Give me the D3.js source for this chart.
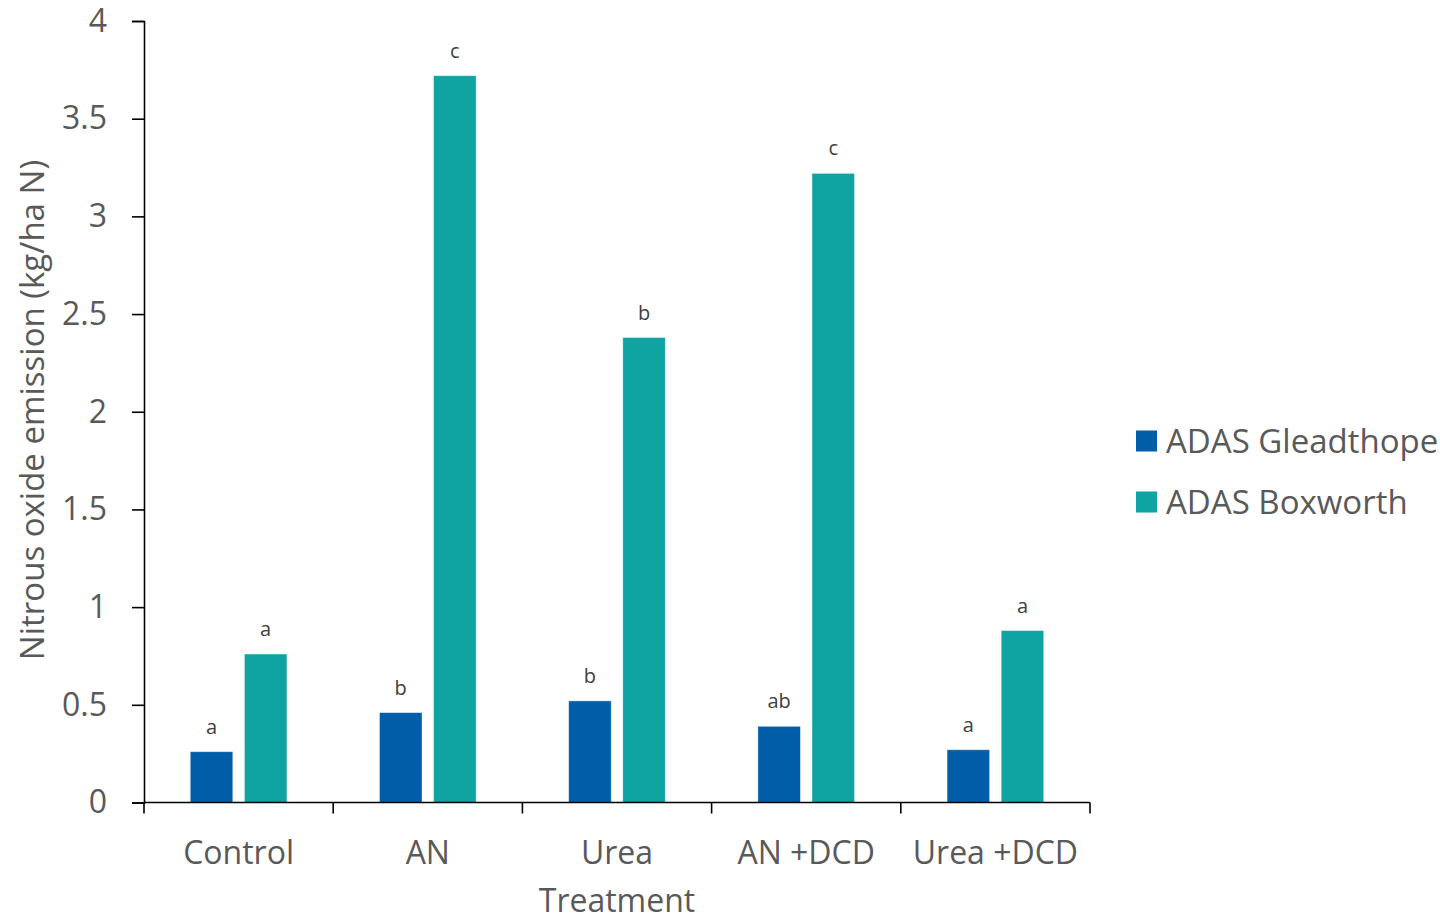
<!DOCTYPE html>
<html>
<head>
<meta charset="utf-8">
<script src="https://cdn.jsdelivr.net/npm/d3@7"></script>
<style>
  html, body { margin: 0; padding: 0; background: #fff; }
  svg { display: block; font-family: "Open Sans", sans-serif; }
</style>
</head>
<body>
<svg id="chart" width="1440" height="918"></svg>
<script>
// Treatments on the x axis
const treatments = ["Control", "AN", "Urea", "AN +DCD", "Urea +DCD"];
// Trial sites (series)
const sites = ["ADAS Gleadthope", "ADAS Boxworth"];
// Cumulative nitrous oxide emission, kg/ha N
const gleadthorpe = [0.26, 0.46, 0.52, 0.39, 0.27];
const boxworth = [0.76, 3.72, 2.38, 3.22, 0.88];
// Significance letters above each bar
const gleadthorpeLetters = ["a", "b", "b", "ab", "a"];
const boxworthLetters = ["a", "c", "b", "c", "a"];
// Y axis ticks
const yTicks = [0, 0.5, 1, 1.5, 2, 2.5, 3, 3.5, 4];
const siteColors = ["#005DA8", "#0FA4A2"];

const seriesValues = [gleadthorpe, boxworth];
const seriesLetters = [gleadthorpeLetters, boxworthLetters];

const svg = d3.select("#chart");
const textColor = "#595959";

const plot = { left: 144, right: 1090, top: 21, bottom: 802.5 };

const x0 = d3.scaleBand().domain(treatments).range([plot.left, plot.right]).padding(0);
const x1 = d3.scaleBand().domain(sites).range([0, x0.bandwidth()])
  .paddingInner(0.214).paddingOuter(0.855);
const y = d3.scaleLinear().domain([0, 4]).range([plot.bottom, plot.top]);

// Bars and letters
const groups = svg.append("g").selectAll("g")
  .data(treatments)
  .join("g")
  .attr("transform", d => `translate(${x0(d)},0)`);

groups.each(function(t, i) {
  const g = d3.select(this);
  sites.forEach((s, j) => {
    const v = seriesValues[j][i];
    g.append("rect")
      .attr("x", x1(s))
      .attr("y", y(v))
      .attr("width", x1.bandwidth())
      .attr("height", y(0) - y(v))
      .attr("fill", siteColors[j])
      .attr("stroke", "#ffffff")
      .attr("stroke-opacity", 0.5)
      .attr("stroke-width", 0.8);
    g.append("text")
      .attr("x", x1(s) + x1.bandwidth() / 2)
      .attr("y", y(v) - 18)
      .attr("text-anchor", "middle")
      .attr("font-size", 20)
      .attr("fill", "#404040")
      .text(seriesLetters[j][i]);
  });
});

// Y axis
const yAxis = d3.axisLeft(y).tickValues(yTicks).tickSize(12).tickPadding(25)
  .tickFormat(d3.format("~g"));
const yg = svg.append("g").attr("transform", `translate(${plot.left},0)`).call(yAxis);
yg.select(".domain").attr("stroke", "#000").attr("stroke-width", 1.6);
yg.selectAll(".tick line").attr("stroke", "#000").attr("stroke-width", 1.6);
yg.selectAll(".tick text").attr("font-size", 32).attr("fill", textColor)
  .attr("font-family", "Open Sans, sans-serif");

// X axis: ticks at category boundaries
const xg = svg.append("g").attr("transform", `translate(0,${plot.bottom})`);
xg.append("line")
  .attr("x1", plot.left).attr("x2", plot.right)
  .attr("stroke", "#000").attr("stroke-width", 1.6);
const boundaries = treatments.map(t => x0(t)).concat([plot.right]);
xg.selectAll("line.tk").data(boundaries).join("line")
  .attr("class", "tk")
  .attr("x1", d => d).attr("x2", d => d)
  .attr("y1", 0).attr("y2", 11)
  .attr("stroke", "#000").attr("stroke-width", 1.6);
xg.selectAll("text").data(treatments).join("text")
  .attr("x", d => x0(d) + x0.bandwidth() / 2)
  .attr("y", 61)
  .attr("text-anchor", "middle")
  .attr("font-size", 32)
  .attr("fill", textColor)
  .text(d => d);

// Axis titles
svg.append("text")
  .attr("x", 617)
  .attr("y", 912)
  .attr("text-anchor", "middle")
  .attr("font-size", 32)
  .attr("fill", textColor)
  .text("Treatment");

svg.append("text")
  .attr("transform", `translate(44,${410}) rotate(-90)`)
  .attr("text-anchor", "middle")
  .attr("font-size", 33)
  .attr("fill", textColor)
  .text("Nitrous oxide emission (kg/ha N)");

// Legend
const legend = svg.append("g").attr("transform", "translate(1136,0)");
sites.forEach((s, j) => {
  const cy = 441 + j * 61;
  legend.append("rect")
    .attr("x", 0).attr("y", cy - 10.5)
    .attr("width", 21).attr("height", 21)
    .attr("fill", siteColors[j]);
  legend.append("text")
    .attr("x", 30).attr("y", cy + 12)
    .attr("font-size", 33)
    .attr("fill", textColor)
    .text(s);
});
</script>
</body>
</html>
